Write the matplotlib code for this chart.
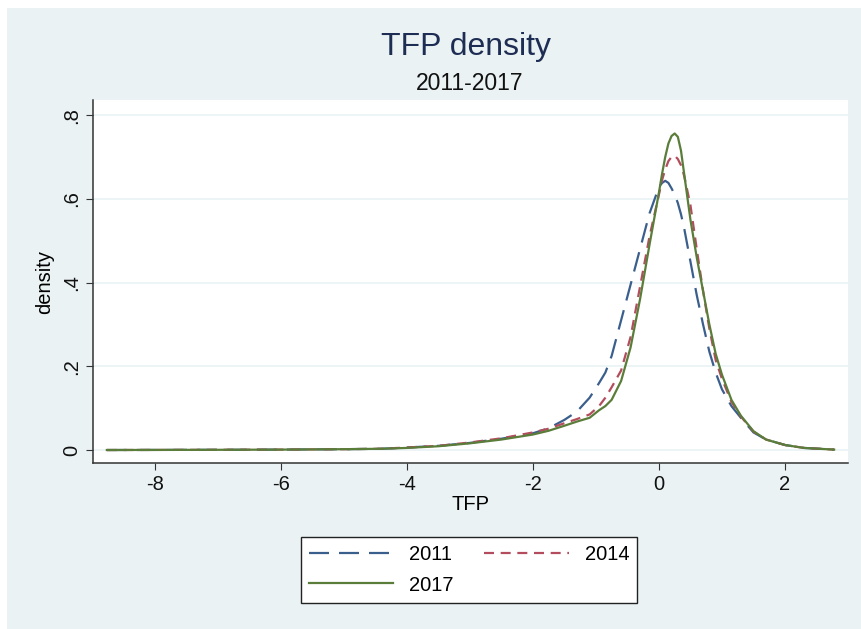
import matplotlib.pyplot as plt
import matplotlib.patches as mpatches

plt.rcParams['font.family'] = ['Liberation Sans', 'DejaVu Sans']

tfp = [-8.76, -7, -6, -5, -4.4, -4, -3.5, -3, -2.5, -2, -1.75, -1.5, -1.3, -1.1,
       -0.95, -0.85, -0.75, -0.6, -0.45, -0.3, -0.15, 0, 0.05, 0.1, 0.15, 0.2, 0.25,
       0.3, 0.35, 0.4, 0.5, 0.6, 0.7, 0.8, 0.9, 1.0, 1.15, 1.3, 1.5, 1.7, 2.0, 2.3, 2.78]

dens_2011 = [0.0, 0.0005, 0.001, 0.002, 0.003, 0.006, 0.010, 0.017, 0.027, 0.040,
             0.052, 0.072, 0.092, 0.125, 0.16, 0.185, 0.225, 0.31, 0.395, 0.48,
             0.565, 0.628, 0.638, 0.643, 0.638, 0.625, 0.61, 0.59, 0.563, 0.53,
             0.45, 0.37, 0.30, 0.235, 0.185, 0.145, 0.105, 0.077, 0.042, 0.025,
             0.012, 0.005, 0.001]

dens_2014 = [0.0, 0.0005, 0.001, 0.002, 0.003, 0.006, 0.010, 0.018, 0.028, 0.042,
             0.051, 0.064, 0.074, 0.085, 0.105, 0.125, 0.15, 0.19, 0.27, 0.39,
             0.51, 0.61, 0.645, 0.67, 0.690, 0.700, 0.703, 0.695, 0.68, 0.655,
             0.585, 0.48, 0.38, 0.29, 0.215, 0.17, 0.115, 0.08, 0.044, 0.025,
             0.012, 0.005, 0.001]

dens_2017 = [0.0, 0.0005, 0.001, 0.002, 0.003, 0.005, 0.009, 0.016, 0.025, 0.037,
             0.046, 0.058, 0.068, 0.077, 0.095, 0.105, 0.12, 0.165, 0.245, 0.36,
             0.49, 0.615, 0.66, 0.70, 0.732, 0.750, 0.756, 0.748, 0.715, 0.66,
             0.55, 0.46, 0.38, 0.30, 0.23, 0.18, 0.12, 0.082, 0.045, 0.025,
             0.012, 0.005, 0.001]

xticks = [-8, -6, -4, -2, 0, 2]
yticks = [0, 0.2, 0.4, 0.6, 0.8]
ylabels = ['0', '.2', '.4', '.6', '.8']

bg = '#eaf2f3'
fig = plt.figure(figsize=(8.61, 6.29), dpi=100, facecolor='white')
fig.patches.append(mpatches.Rectangle((7/861, 0), 1, 1 - 8/629, transform=fig.transFigure,
                                      facecolor=bg, edgecolor='none', zorder=-10))

ax = fig.add_axes([93/861, 1 - 463/629, (848 - 93)/861, (463 - 100)/629])
ax.set_facecolor('white')

l1, = ax.plot(tfp, dens_2011, color='#3b5f8c', lw=1.6, dashes=(9, 4.5), label='2011')
l2, = ax.plot(tfp, dens_2014, color='#b34d5e', lw=1.6, dashes=(4.5, 3), label='2014')
l3, = ax.plot(tfp, dens_2017, color='#5b7d3a', lw=1.6, label='2017')

ax.set_xlim(-8.98, 3.0)
ax.set_ylim(-0.031, 0.836)
ax.set_xticks(xticks)
ax.set_xticklabels([str(t) for t in xticks])
ax.set_yticks(yticks)
ax.set_yticklabels(ylabels, rotation=90, va='center')
ax.tick_params(labelsize=14.5, length=5, color='#333333', labelcolor='#111111')
for y in yticks:
    ax.axhline(y, color=bg, lw=1.2, zorder=0)

for s in ['top', 'right']:
    ax.spines[s].set_visible(False)
for s in ['left', 'bottom']:
    ax.spines[s].set_color('#333333')
    ax.spines[s].set_linewidth(1.1)

ax.set_xlabel('TFP', fontsize=14.5, labelpad=1)
ax.set_ylabel('density', fontsize=14.5, labelpad=6)

fig.text(466/861, 1 - 47/629, 'TFP density', ha='center', va='center', fontsize=23, color='#1e2d53')
fig.text(470/861, 1 - 84/629, '2011-2017', ha='center', va='center', fontsize=16.5, color='#111111')

leg = fig.legend([l1, l3, l2], ['2011', '2017', '2014'], ncol=2,
                 loc='center', bbox_to_anchor=(469/861, 1 - 570/629),
                 fontsize=14.5, handlelength=4.2, columnspacing=1.5, labelspacing=0.55,
                 fancybox=False, framealpha=1, edgecolor='#222222')
leg.get_frame().set_linewidth(1.0)

fig.savefig('out.png', dpi=100, facecolor=fig.get_facecolor())
